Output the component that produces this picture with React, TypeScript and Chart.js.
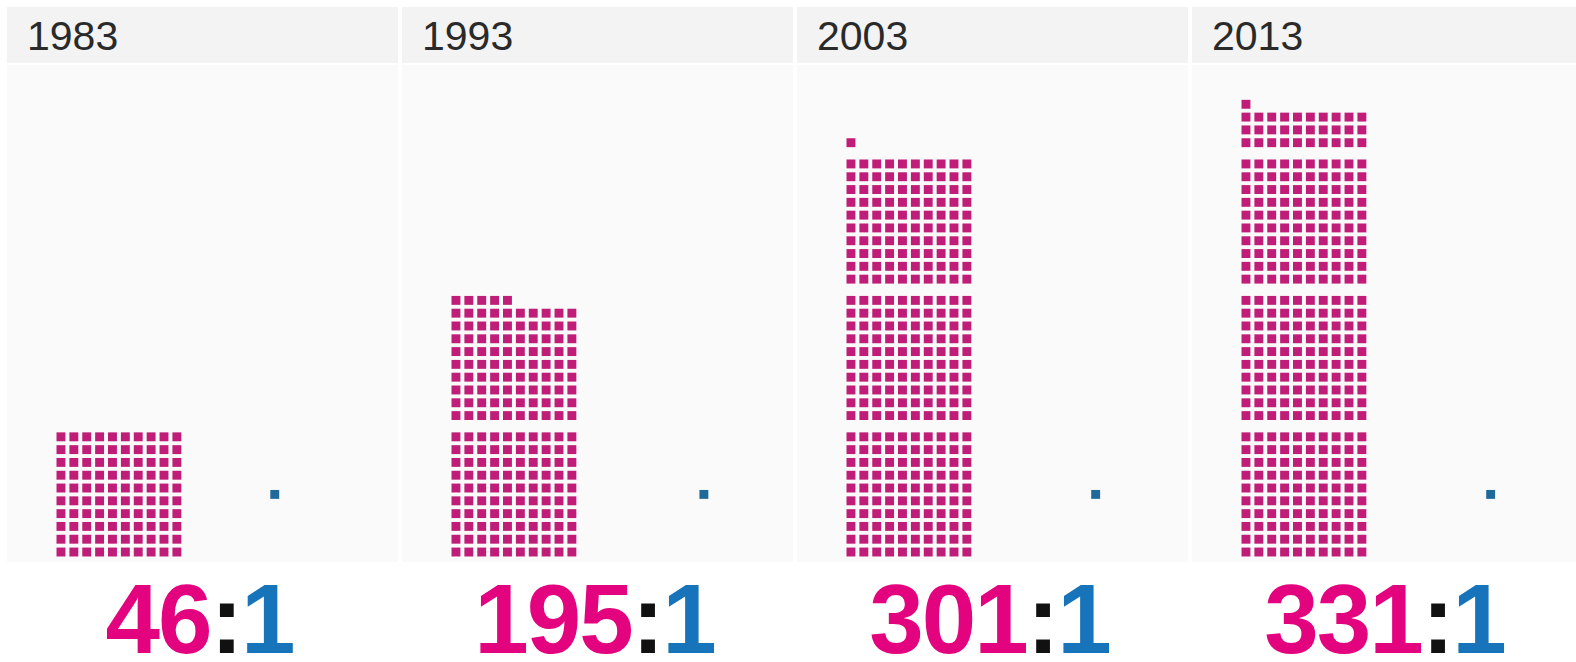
import React, { useEffect, useRef } from "react";
import { Chart, registerables } from "chart.js";

Chart.register(...registerables);

// ---- data ----
const years = ["1983", "1993", "2003", "2013"];
const ceoRatio = [46, 195, 301, 331];
const workerRatio = [1, 1, 1, 1];
// number of pink unit squares drawn in each panel
const ceoSquares = [100, 195, 301, 331];

// ---- layout constants ----
const PANEL_W = 391;
const PANEL_STEP = 395;
const PANEL_LEFT0 = 7;
const HEADER_TOP = 7;
const HEADER_H = 56;
const BODY_TOP = 65;
const BODY_H = 497;
const PAD = 7; // chart layout padding, compensated by an oversized canvas
const BLOCK_GAP = 0.66; // extra gap between blocks of 100, in row units
const workerColumn = [16.6, 19.25, 19.0, 19.0];
const PINK_SQ = "#bf1d77";
const BLUE_SQ = "#1f6a9a";
const PINK_TXT = "#e4037e";
const BLUE_TXT = "#1774ba";
const FONT = '"Liberation Sans", Arial, Helvetica, sans-serif';

function unitPoints(n: number) {
  const pts: { x: number; y: number }[] = [];
  for (let k = 0; k < n; k++) {
    const block = Math.floor(k / 100);
    const within = k % 100;
    const row = Math.floor(within / 10);
    const col = within % 10;
    pts.push({ x: col, y: block * (10 + BLOCK_GAP) + row });
  }
  return pts;
}

function Panel({ idx }: { idx: number }) {
  const ref = useRef<HTMLCanvasElement | null>(null);
  useEffect(() => {
    if (!ref.current) return;
    const chart = new Chart(ref.current, {
      type: "scatter",
      data: {
        datasets: [
          {
            label: "CEO",
            data: unitPoints(ceoSquares[idx]),
            pointStyle: "rect",
            pointRadius: 6.3,
            pointHoverRadius: 6.3,
            backgroundColor: PINK_SQ,
            borderWidth: 0,
          },
          {
            label: "Worker",
            data: [{ x: workerColumn[idx], y: 4.5 * workerRatio[idx] }],
            pointStyle: "rect",
            pointRadius: 6.3,
            pointHoverRadius: 6.3,
            backgroundColor: BLUE_SQ,
            borderWidth: 0,
          },
        ],
      },
      options: {
        animation: false,
        responsive: false,
        maintainAspectRatio: false,
        layout: { padding: PAD },
        plugins: { legend: { display: false }, tooltip: { enabled: false }, title: { display: false } },
        scales: {
          x: { type: "linear", min: -4.19, max: 26.17, display: false },
          y: { type: "linear", min: -0.78, max: 38.05, display: false },
        },
      },
    });
    return () => chart.destroy();
  }, [idx]);

  const left = PANEL_LEFT0 + idx * PANEL_STEP;
  return (
    <>
      <div
        style={{
          position: "absolute",
          left,
          top: HEADER_TOP,
          width: PANEL_W,
          height: HEADER_H,
          background: "#f3f3f3",
          fontFamily: FONT,
          fontSize: 41,
          lineHeight: HEADER_H + "px",
          color: "#2a2a2a",
          paddingLeft: 20,
          paddingTop: 1,
          boxSizing: "border-box",
        }}
      >
        {years[idx]}
      </div>
      <div
        style={{
          position: "absolute",
          left,
          top: BODY_TOP,
          width: PANEL_W,
          height: BODY_H,
          background: "#fafafa",
          overflow: "hidden",
        }}
      >
        <canvas
          ref={ref}
          width={PANEL_W + 2 * PAD}
          height={BODY_H + 2 * PAD}
          style={{ display: "block", position: "absolute", left: -PAD, top: -PAD }}
        />
      </div>
      <div
        style={{
          position: "absolute",
          left,
          top: 569,
          width: PANEL_W,
          height: 100,
          textAlign: "center",
          fontFamily: FONT,
          fontWeight: "bold",
          fontSize: 98,
          lineHeight: "100px",
          whiteSpace: "nowrap",
          letterSpacing: -2,
          paddingRight: 6,
          boxSizing: "border-box",
        }}
      >
        <span style={{ color: PINK_TXT }}>{ceoRatio[idx]}</span>
        <span style={{ color: "#111" }}>:</span>
        <span style={{ color: BLUE_TXT }}>{workerRatio[idx]}</span>
      </div>
    </>
  );
}

export default function App() {
  useEffect(() => {
    document.body.style.margin = "0";
    document.documentElement.style.overflow = "hidden";
    document.body.style.overflow = "hidden";
  }, []);
  return (
    <div style={{ position: "relative", width: 1576, height: 662, background: "#fff", overflow: "hidden" }}>
      {years.map((_, i) => (
        <Panel key={i} idx={i} />
      ))}
    </div>
  );
}
